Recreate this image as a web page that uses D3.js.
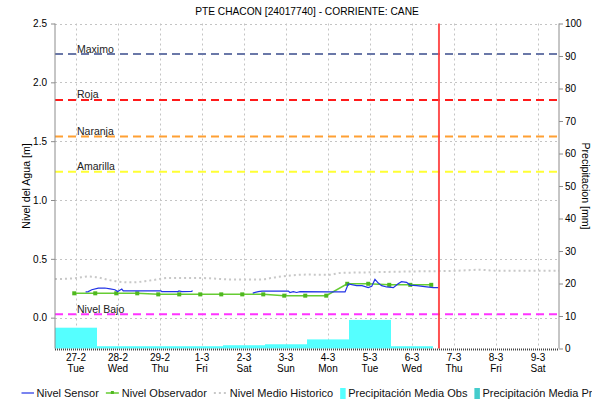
<!DOCTYPE html>
<html><head><meta charset="utf-8">
<script src="https://cdn.jsdelivr.net/npm/d3@7"></script>
<style>
html,body{margin:0;padding:0;background:#fff;overflow:hidden}
svg{display:block}
.reg{font-family:"Liberation Sans",Arial,sans-serif}
.nar{font-family:"Liberation Sans Narrow","Liberation Sans",Arial,sans-serif}
</style></head><body>
<svg id="chart" width="592" height="401"></svg>
<script>
// ---- chart data ----
const chartTitle = "PTE CHACON [24017740] - CORRIENTE: CANE";
const levelAxisTitle = "Nivel del Agua [m]";
const rainAxisTitle = "Precipitacion [mm]";

const periodStart = "2024-02-27T00:00";
const periodEnd = "2024-03-10T00:00";
const nowTime = "2024-03-07T03:25";

const levelTicks = [0, 0.5, 1.0, 1.5, 2.0, 2.5];
const rainTicks = [0, 10, 20, 30, 40, 50, 60, 70, 80, 90, 100];

const thresholdNames = ["Maximo", "Roja", "Naranja", "Amarilla", "Nivel Bajo"];
const thresholdLevels = [2.24, 1.85, 1.54, 1.24, 0.03];

const sensorTime = [
  "2024-02-27T17:30","2024-02-27T19:00","2024-02-27T21:00","2024-02-28T00:45","2024-02-28T04:30",
  "2024-02-28T07:30","2024-02-28T10:15","2024-02-28T11:50","2024-02-28T14:10","2024-02-28T15:00",
  "2024-02-29T00:30","2024-02-29T12:30","2024-02-29T13:00","2024-02-29T22:15","2024-02-29T22:50",
  "2024-03-01T00:30","2024-03-01T06:00","2024-03-01T06:40","2024-03-02T00:00","2024-03-02T17:00",
  "2024-03-02T20:10","2024-03-02T22:20","2024-03-03T13:20","2024-03-03T14:15","2024-03-03T16:10",
  "2024-03-03T18:05","2024-03-03T20:00","2024-03-04T13:10","2024-03-04T21:45","2024-03-04T23:35",
  "2024-03-05T04:20","2024-03-05T07:25","2024-03-05T11:00","2024-03-05T13:00","2024-03-05T14:50",
  "2024-03-05T16:45","2024-03-05T18:40","2024-03-05T21:30","2024-03-06T01:20","2024-03-06T04:05",
  "2024-03-06T06:00","2024-03-06T08:55","2024-03-06T10:50","2024-03-06T14:40","2024-03-06T20:25",
  "2024-03-07T00:10","2024-03-07T03:00"
];
const sensorLevel = [
  0.219, 0.222, 0.237, 0.251, 0.252,
  0.245, 0.237, 0.222, 0.243, 0.228,
  0.228, 0.228, 0.222, 0.222, 0.227,
  0.222, 0.224, 0.229, null, 0.209,
  0.222, 0.226, 0.226, 0.214, 0.222,
  0.214, 0.222, 0.220, 0.219, 0.286,
  0.272, 0.272, 0.255, 0.266, 0.325,
  0.294, 0.272, 0.261, 0.255, 0.289,
  0.306, 0.300, 0.277, 0.272, 0.261,
  0.255, 0.255
];

const observerTime = [
  "2024-02-27T11:00","2024-02-27T23:00","2024-02-28T11:00","2024-02-28T23:00",
  "2024-02-29T11:00","2024-02-29T23:00","2024-03-01T11:00","2024-03-01T23:00",
  "2024-03-02T11:00","2024-03-02T23:00","2024-03-03T11:00","2024-03-03T23:00",
  "2024-03-04T11:00","2024-03-04T23:00","2024-03-05T11:00","2024-03-05T23:00",
  "2024-03-06T11:00","2024-03-06T23:00"
];
const observerLevel = [
  0.207, 0.207, 0.207, 0.207, 0.198, 0.198, 0.198, 0.198, 0.198,
  0.198, 0.187, 0.187, 0.187, 0.288, 0.288, 0.279, 0.279, 0.279
];

const historicTime = [
  "2024-02-27T00:00","2024-02-27T12:25","2024-02-27T18:50","2024-02-28T00:35","2024-02-28T06:15",
  "2024-02-28T12:00","2024-02-28T19:50","2024-02-29T03:25","2024-02-29T09:10","2024-02-29T16:35",
  "2024-03-01T10:50","2024-03-01T18:15","2024-03-02T04:05","2024-03-02T21:05","2024-03-03T06:45",
  "2024-03-03T14:25","2024-03-03T23:45","2024-03-04T13:10","2024-03-04T19:00","2024-03-05T10:05",
  "2024-03-06T12:30","2024-03-07T13:25","2024-03-08T02:55","2024-03-08T12:30","2024-03-10T00:00"
];
const historicLevel = [
  0.328, 0.337, 0.350, 0.342, 0.322,
  0.307, 0.300, 0.310, 0.322, 0.337,
  0.337, 0.333, 0.325, 0.325, 0.345,
  0.358, 0.366, 0.365, 0.380, 0.385,
  0.393, 0.399, 0.407, 0.399, 0.399
];

const rainDay = [
  "2024-02-27","2024-02-28","2024-02-29","2024-03-01","2024-03-02",
  "2024-03-03","2024-03-04","2024-03-05","2024-03-06"
];
const rainObserved = [6.4, 0.7, 0.7, 0.7, 1.0, 1.3, 2.8, 8.8, 0.7];

const legendNames = ["Nivel Sensor", "Nivel Observador", "Nivel Medio Historico",
                     "Precipitación Media Obs", "Precipitación Media Pronostico"];

// ---- styling ----
const thresholdColors = ["#6a78a8", "#ff1a1a", "#ffa033", "#ffff33", "#ff33ff"];
const col = {
  sensor: "#2233e6", observer: "#66cc33", observerPt: "#4fb81f",
  historic: "#c8c8c8", rainObs: "#55ffff", rainFcst: "#44cccc",
  grid: "#c4c4c4", axis: "#8c8c8c", now: "#ff4040", text: "#000"
};

// ---- layout ----
const W = 592, H = 401;
const P = { left: 55, right: 559, top: 23.5, bottom: 348.5 };

const parseT = d3.utcParse("%Y-%m-%dT%H:%M");
const parseD = d3.utcParse("%Y-%m-%d");

const x = d3.scaleUtc().domain([parseT(periodStart), parseT(periodEnd)]).range([P.left, P.right]);
const yL = d3.scaleLinear().domain([-0.262, 2.5]).range([P.bottom, P.top]);
const yR = d3.scaleLinear().domain([0, 100]).range([P.bottom, P.top]);

const svg = d3.select("#chart");
svg.append("rect").attr("width", W).attr("height", H).attr("fill", "#fff");

// day ticks at midday
const dayStarts = d3.utcDay.range(parseT(periodStart), parseT(periodEnd));
const noonTicks = dayStarts.map(d => d3.utcHour.offset(d, 12));

// grid
const grid = svg.append("g");
grid.selectAll("line.h").data(levelTicks).join("line")
  .attr("x1", P.left).attr("x2", P.right)
  .attr("y1", d => Math.round(yL(d)) + 0.5).attr("y2", d => Math.round(yL(d)) + 0.5)
  .attr("stroke", col.grid).attr("stroke-width", 1).attr("stroke-dasharray", "2,3");
grid.selectAll("line.v").data(noonTicks).join("line")
  .attr("x1", d => Math.round(x(d)) + 0.5).attr("x2", d => Math.round(x(d)) + 0.5)
  .attr("y1", P.top).attr("y2", P.bottom)
  .attr("stroke", col.grid).attr("stroke-width", 1).attr("stroke-dasharray", "2,3");

// precipitation bars (right axis)
svg.append("g").selectAll("rect").data(rainDay.map((d, i) => ({ d: parseD(d), v: rainObserved[i] })))
  .join("rect")
  .attr("x", d => x(d.d))
  .attr("width", d => x(d3.utcDay.offset(d.d, 1)) - x(d.d))
  .attr("y", d => yR(d.v))
  .attr("height", d => yR(0) - yR(d.v))
  .attr("fill", col.rainObs);

// threshold lines
const thr = svg.append("g");
thresholdLevels.forEach((v, i) => {
  const yy = yL(v);
  thr.append("line").attr("x1", P.left).attr("x2", P.right).attr("y1", yy).attr("y2", yy)
    .attr("stroke", thresholdColors[i]).attr("stroke-width", 2).attr("stroke-dasharray", "8,5");
  thr.append("text").attr("class", "nar").attr("x", x(noonTicks[0]) + 1).attr("y", yy - 1.5)
    .attr("font-size", 10.5).attr("fill", "#222").text(thresholdNames[i]);
});

// historic mean level
const lineL = d3.line().x(d => x(d.t)).y(d => yL(d.v)).defined(d => d.v != null);
svg.append("path")
  .datum(historicTime.map((t, i) => ({ t: parseT(t), v: historicLevel[i] })))
  .attr("d", d3.line().x(d => x(d.t)).y(d => yL(d.v)).curve(d3.curveMonotoneX))
  .attr("fill", "none").attr("stroke", col.historic).attr("stroke-width", 2)
  .attr("stroke-dasharray", "2,3");

// observer level
const obs = observerTime.map((t, i) => ({ t: parseT(t), v: observerLevel[i] }));
svg.append("path").datum(obs).attr("d", lineL)
  .attr("fill", "none").attr("stroke", col.observer).attr("stroke-width", 1.5);
svg.append("g").selectAll("rect").data(obs).join("rect")
  .attr("x", d => x(d.t) - 2).attr("y", d => yL(d.v) - 2)
  .attr("width", 4).attr("height", 4).attr("fill", col.observerPt);

// sensor level
svg.append("path")
  .datum(sensorTime.map((t, i) => ({ t: parseT(t), v: sensorLevel[i] })))
  .attr("d", lineL)
  .attr("fill", "none").attr("stroke", col.sensor).attr("stroke-width", 1.2);

// current time marker
svg.append("line")
  .attr("x1", x(parseT(nowTime))).attr("x2", x(parseT(nowTime)))
  .attr("y1", P.top).attr("y2", P.bottom)
  .attr("stroke", col.now).attr("stroke-width", 2).attr("opacity", 0.9);

// left axis
const axL = svg.append("g").attr("transform", `translate(${P.left},0)`)
  .call(d3.axisLeft(yL).tickValues(levelTicks).tickFormat(d3.format(".1f")).tickSize(4).tickPadding(4));
axL.select(".domain").attr("stroke", col.axis).attr("d", `M0,${P.top}V${P.bottom}`);
axL.selectAll(".tick line").attr("stroke", col.axis);
axL.selectAll("text").attr("class", "nar").attr("font-size", 10).attr("fill", col.text);

// right axis
const axR = svg.append("g").attr("transform", `translate(${P.right},0)`)
  .call(d3.axisRight(yR).tickValues(rainTicks).tickSize(4).tickPadding(2));
axR.select(".domain").attr("stroke", col.axis).attr("d", `M0,${P.top}V${P.bottom}`);
axR.selectAll(".tick line").attr("stroke", col.axis);
axR.selectAll("text").attr("class", "nar").attr("font-size", 10).attr("fill", col.text);

// bottom axis: dense hourly ticks form a dotted baseline
svg.append("line").attr("x1", P.left).attr("x2", P.right)
  .attr("y1", P.bottom + 1).attr("y2", P.bottom + 1)
  .attr("stroke", "#444").attr("stroke-width", 2).attr("stroke-dasharray", "1,1");
const fmtDay = d3.utcFormat("%-d-%-m"), fmtWk = d3.utcFormat("%a");
const xt = svg.append("g").selectAll("text").data(noonTicks).join("text")
  .attr("class", "nar").attr("font-size", 10).attr("text-anchor", "middle").attr("fill", col.text);
xt.append("tspan").attr("x", d => x(d)).attr("y", 361).text(d => fmtDay(d));
xt.append("tspan").attr("x", d => x(d)).attr("y", 372).text(d => fmtWk(d));

// titles
svg.append("text").attr("class", "reg").attr("x", (P.left + P.right) / 2).attr("y", 15)
  .attr("text-anchor", "middle").attr("font-size", 10.2).text(chartTitle);
svg.append("text").attr("class", "reg").attr("transform", `translate(30,${(P.top + P.bottom) / 2}) rotate(-90)`)
  .attr("text-anchor", "middle").attr("font-size", 10.6).text(levelAxisTitle);
svg.append("text").attr("class", "reg").attr("transform", `translate(581.5,${(P.top + P.bottom) / 2}) rotate(90)`)
  .attr("text-anchor", "middle").attr("font-size", 10.6).text(rainAxisTitle);

// legend
const lg = svg.append("g");
let lx = 21.5; const ly = 393;
legendNames.forEach((name, i) => {
  if (i === 0) {
    lg.append("line").attr("x1", lx).attr("x2", lx + 12.5).attr("y1", ly).attr("y2", ly)
      .attr("stroke", col.sensor).attr("stroke-width", 1.2);
    lx += 15;
  } else if (i === 1) {
    lg.append("line").attr("x1", lx).attr("x2", lx + 13).attr("y1", ly).attr("y2", ly)
      .attr("stroke", col.observer).attr("stroke-width", 1.5);
    lg.append("rect").attr("x", lx + 5).attr("y", ly - 2).attr("width", 3).attr("height", 3)
      .attr("fill", col.observerPt);
    lx += 16;
  } else if (i === 2) {
    lg.append("line").attr("x1", lx).attr("x2", lx + 12).attr("y1", ly).attr("y2", ly)
      .attr("stroke", col.historic).attr("stroke-width", 2).attr("stroke-dasharray", "2,3");
    lx += 16;
  } else {
    lg.append("rect").attr("x", lx).attr("y", ly - 5).attr("width", 5.5).attr("height", 11)
      .attr("fill", i === 3 ? col.rainObs : col.rainFcst);
    lx += 8;
  }
  const t = lg.append("text").attr("class", "nar").attr("x", lx).attr("y", ly + 4)
    .attr("font-size", 11).attr("fill", "#111").text(name);
  lx += t.node().getComputedTextLength() + 7;
});
</script>
</body></html>
